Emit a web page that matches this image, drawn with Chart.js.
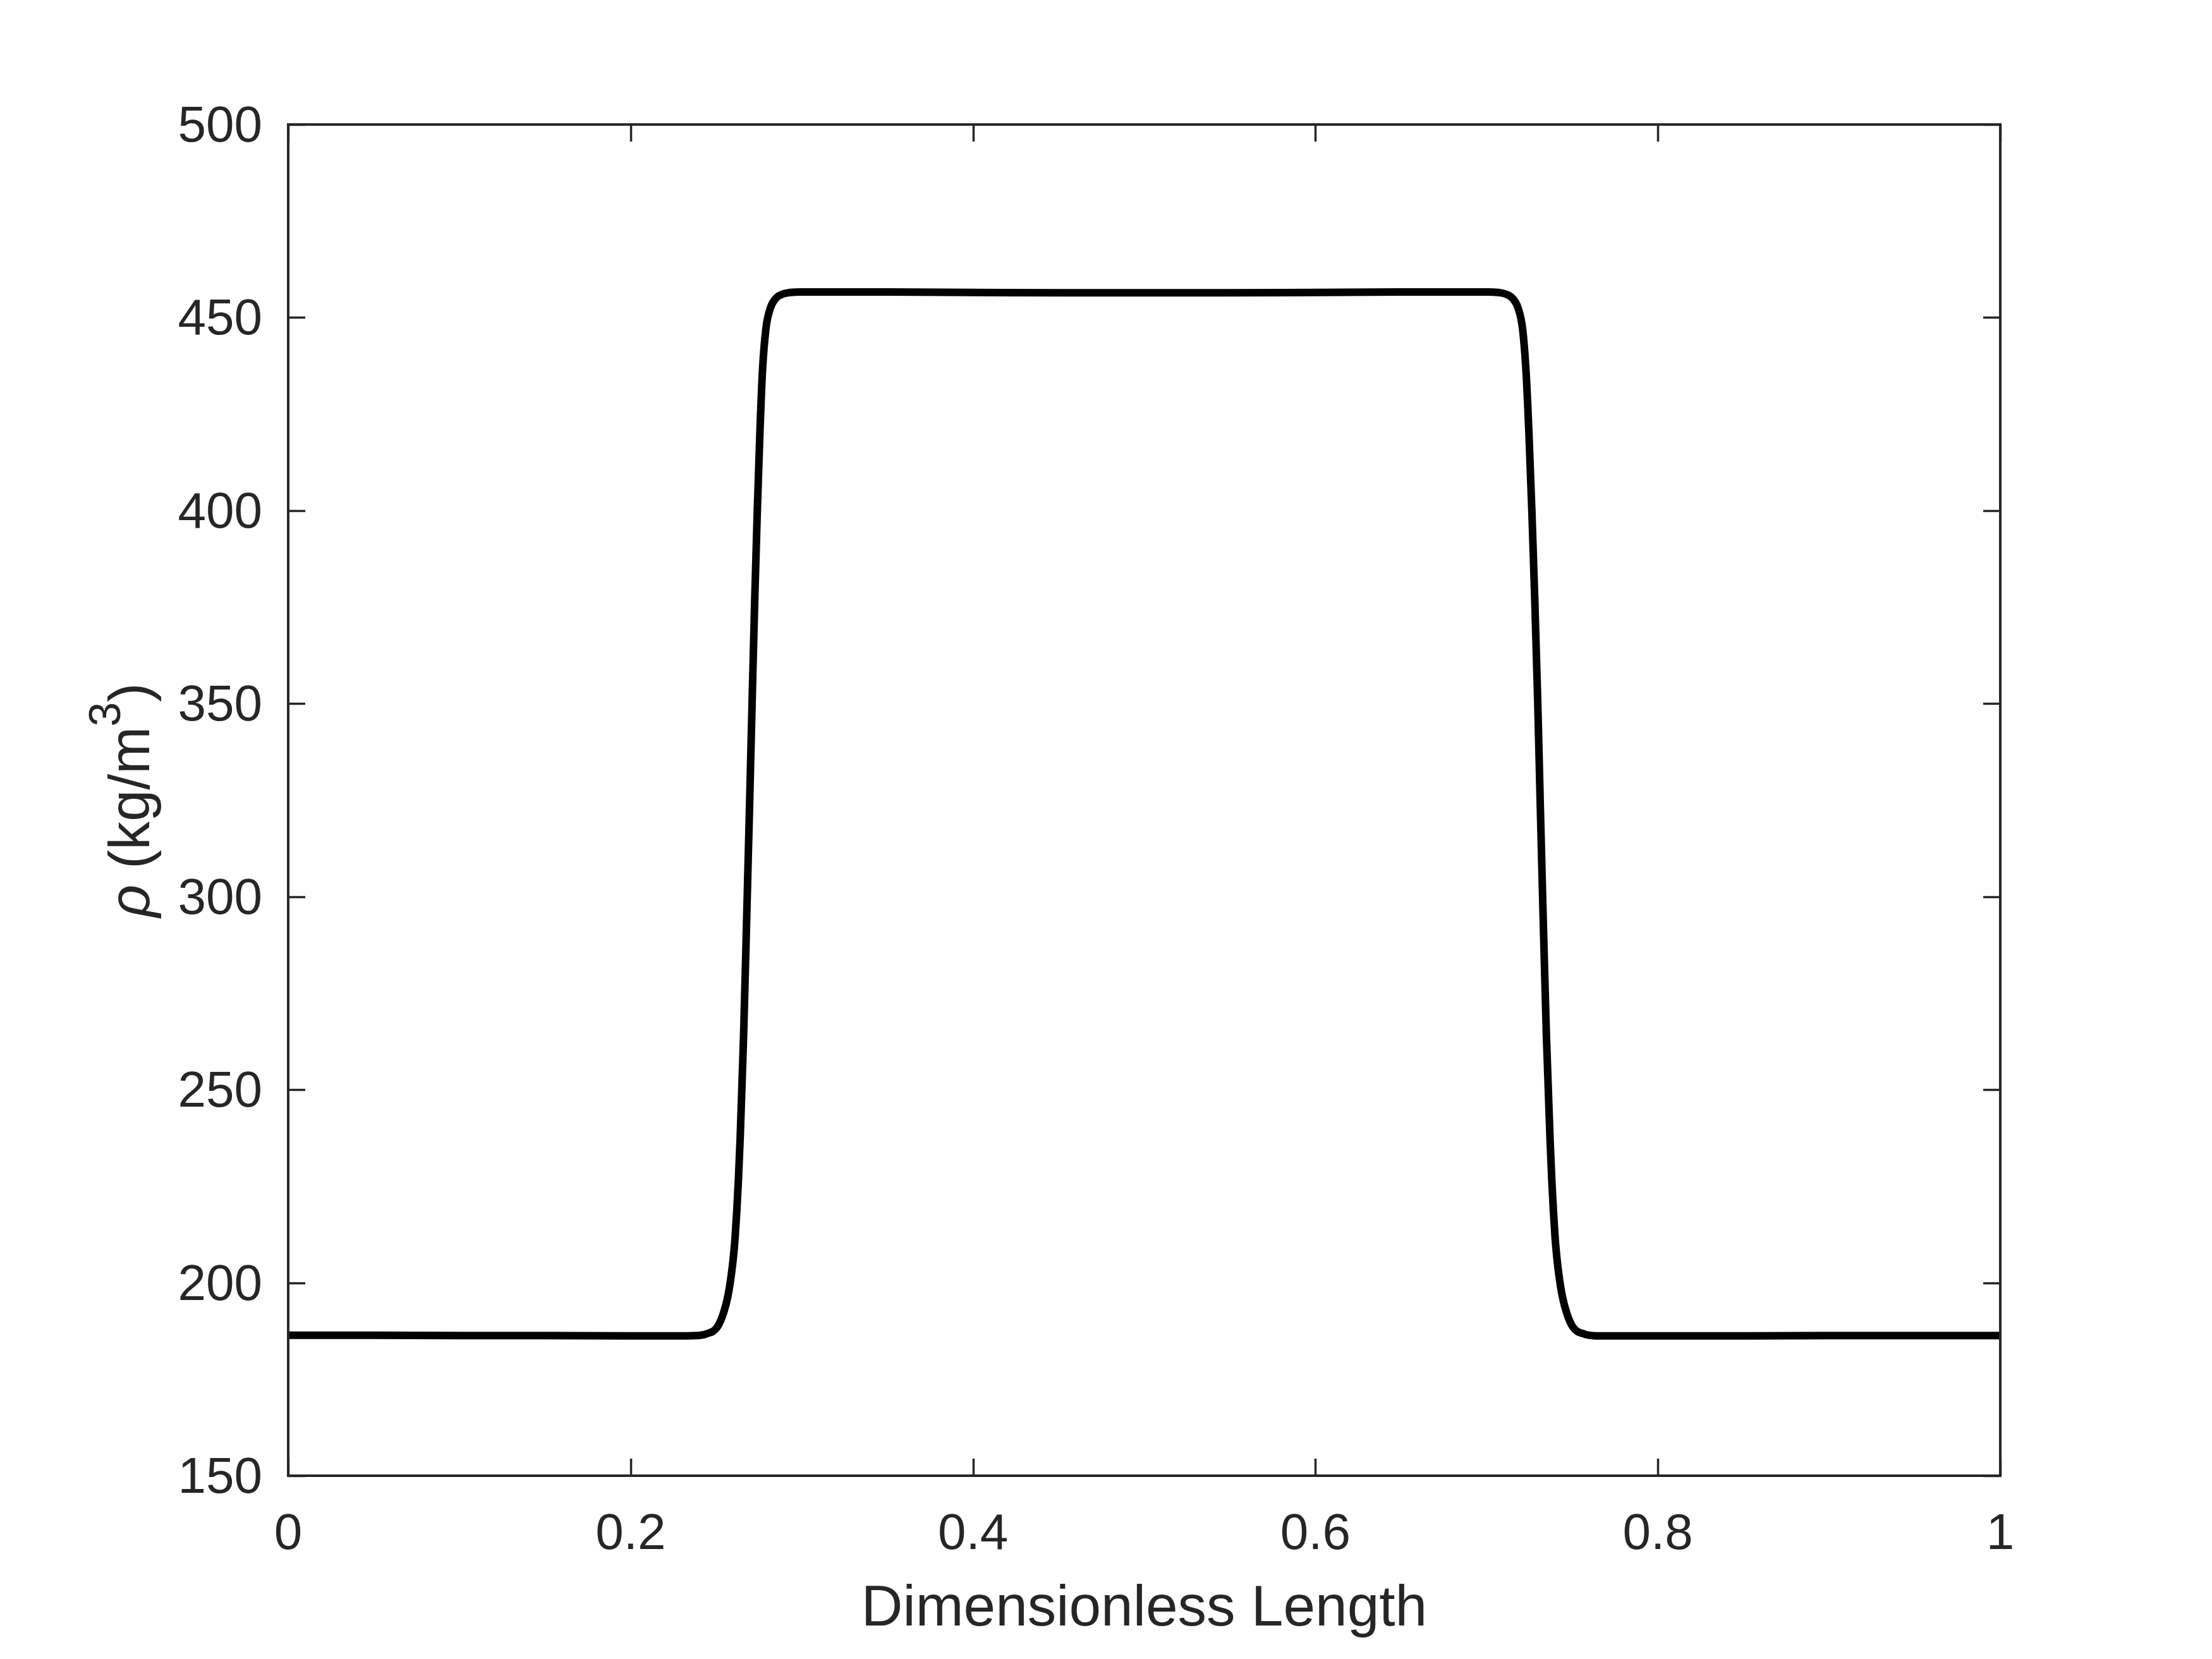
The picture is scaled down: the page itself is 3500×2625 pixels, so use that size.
<!DOCTYPE html>
<html lang="en">
<head>
    <meta charset="UTF-8">
    <title>Density Profile</title>
    <script src="https://cdn.jsdelivr.net/npm/chart.js"></script>
    <style>
        html, body { margin: 0; padding: 0; background: #fff; }
        canvas { display: block; }
    </style>
</head>
<body>
    <canvas id="rhoChart" width="3500" height="2625"></canvas>

    <script>
        // Data
        const xPos = [
            0, 0.05, 0.10, 0.15, 0.20, 0.225, 0.238, 0.244, 0.2506, 0.2543,
            0.2569, 0.2588, 0.2600, 0.2610, 0.2620, 0.2630, 0.2640, 0.2660, 0.2680, 0.2695,
            0.2710, 0.2725, 0.2740, 0.2755, 0.2770, 0.2790, 0.2815, 0.2845, 0.2890, 0.2993,
            0.35, 0.40, 0.45, 0.50, 0.55, 0.60, 0.65, 0.7007, 0.7110, 0.7155,
            0.7185, 0.7210, 0.7230, 0.7247, 0.7264, 0.7281, 0.7298, 0.7313, 0.7328, 0.7349,
            0.7370, 0.7380, 0.7390, 0.7400, 0.7410, 0.7422, 0.7441, 0.7467, 0.7504, 0.7570,
            0.7668, 0.80, 0.85, 0.90, 0.95, 1.0
        ];
        const rho = [
            186.4, 186.4, 186.3, 186.3, 186.2, 186.2, 186.3, 186.7, 188.5, 192.2,
            196.7, 202.0, 206.5, 211.5, 218.5, 227.0, 237.5, 264.0, 298.0, 324.0,
            351.0, 377.0, 400.0, 420.0, 436.0, 447.0, 452.3, 454.8, 456.1, 456.6,
            456.6, 456.5, 456.4, 456.4, 456.4, 456.5, 456.6, 456.6, 456.1, 454.8,
            452.3, 447.0, 436.0, 420.0, 400.0, 377.0, 351.0, 324.0, 298.0, 264.0,
            237.5, 227.0, 218.5, 211.5, 206.5, 202.0, 196.7, 192.2, 188.5, 186.7,
            186.2, 186.2, 186.2, 186.3, 186.3, 186.3
        ];

        const xTicks = [0, 0.2, 0.4, 0.6, 0.8, 1];
        const xTickLabels = ['0', '0.2', '0.4', '0.6', '0.8', '1'];
        const yTicks = [150, 200, 250, 300, 350, 400, 450, 500];
        const yTickLabels = ['150', '200', '250', '300', '350', '400', '450', '500'];

        const axisColor = '#262626';
        const fontFamily = "'Liberation Sans', Arial, Helvetica, sans-serif";

        // frame, inward ticks and the y title (italic rho + superscript)
        const matlabAxes = {
            id: 'matlabAxes',
            afterDatasetsDraw(chart) {
                const { ctx, chartArea: a, scales } = chart;
                const tl = 27;
                ctx.save();
                ctx.strokeStyle = axisColor;
                ctx.lineWidth = 3.5;
                ctx.beginPath();
                yTicks.forEach(v => {
                    const y = Math.round(scales.y.getPixelForValue(v)) + 0.5;
                    ctx.moveTo(a.left, y); ctx.lineTo(a.left + tl, y);
                    ctx.moveTo(a.right, y); ctx.lineTo(a.right - tl, y);
                });
                xTicks.forEach(v => {
                    const x = Math.round(scales.x.getPixelForValue(v)) + 0.5;
                    ctx.moveTo(x, a.bottom); ctx.lineTo(x, a.bottom - tl);
                    ctx.moveTo(x, a.top); ctx.lineTo(x, a.top + tl);
                });
                ctx.stroke();
                ctx.lineWidth = 4;
                ctx.strokeRect(a.left, a.top, a.right - a.left, a.bottom - a.top);
                ctx.restore();
            },
            afterDraw(chart) {
                const { ctx, chartArea: a } = chart;
                const parts = [
                    { t: '\u03C1', font: 'italic 90px ' + fontFamily, dy: 0 },
                    { t: ' (kg/m', font: '90px ' + fontFamily, dy: 0 },
                    { t: '3', font: '70px ' + fontFamily, dy: -46 },
                    { t: ')', font: '90px ' + fontFamily, dy: 0 }
                ];
                ctx.save();
                let total = 0;
                parts.forEach(p => { ctx.font = p.font; p.w = ctx.measureText(p.t).width; total += p.w; });
                ctx.translate(236, (a.top + a.bottom) / 2);
                ctx.rotate(-Math.PI / 2);
                ctx.fillStyle = axisColor;
                ctx.textBaseline = 'alphabetic';
                ctx.textAlign = 'left';
                let x = -total / 2;
                parts.forEach(p => {
                    ctx.font = p.font;
                    ctx.fillText(p.t, x, p.dy);
                    x += p.w;
                });
                ctx.restore();
            }
        };

        const ctx = document.getElementById('rhoChart').getContext('2d');
        const rhoChart = new Chart(ctx, {
            type: 'line',
            data: {
                datasets: [{
                    data: xPos.map((x, i) => ({ x: x, y: rho[i] })),
                    borderColor: '#000000',
                    borderWidth: 12,
                    pointRadius: 0,
                    cubicInterpolationMode: 'monotone',
                    borderJoinStyle: 'round',
                    fill: false,
                    clip: 0
                }]
            },
            options: {
                responsive: false,
                devicePixelRatio: 1,
                animation: false,
                layout: { padding: { left: 0, top: 197, right: 335, bottom: 0 } },
                plugins: {
                    legend: { display: false },
                    tooltip: { enabled: false }
                },
                scales: {
                    x: {
                        type: 'linear',
                        min: 0,
                        max: 1,
                        grid: { display: false, drawTicks: false },
                        border: { display: false },
                        afterBuildTicks: s => { s.ticks = xTicks.map(v => ({ value: v })); },
                        afterFit: s => { s.height = 290; },
                        ticks: {
                            padding: 46,
                            color: axisColor,
                            maxRotation: 0,
                            autoSkip: false,
                            font: { family: fontFamily, size: 80 },
                            callback: v => xTickLabels[xTicks.indexOf(v)]
                        },
                        title: {
                            display: true,
                            text: 'Dimensionless Length',
                            color: axisColor,
                            font: { family: fontFamily, size: 91, lineHeight: 1.2 },
                            padding: { top: 0, bottom: 23 }
                        }
                    },
                    y: {
                        type: 'linear',
                        min: 150,
                        max: 500,
                        grid: { display: false, drawTicks: false },
                        border: { display: false },
                        afterBuildTicks: s => { s.ticks = yTicks.map(v => ({ value: v })); },
                        afterFit: s => { s.width = 456; },
                        ticks: {
                            padding: 41,
                            labelOffset: 5,
                            color: axisColor,
                            autoSkip: false,
                            font: { family: fontFamily, size: 80 },
                            callback: v => yTickLabels[yTicks.indexOf(v)]
                        }
                    }
                }
            },
            plugins: [matlabAxes]
        });
    </script>
</body>
</html>
